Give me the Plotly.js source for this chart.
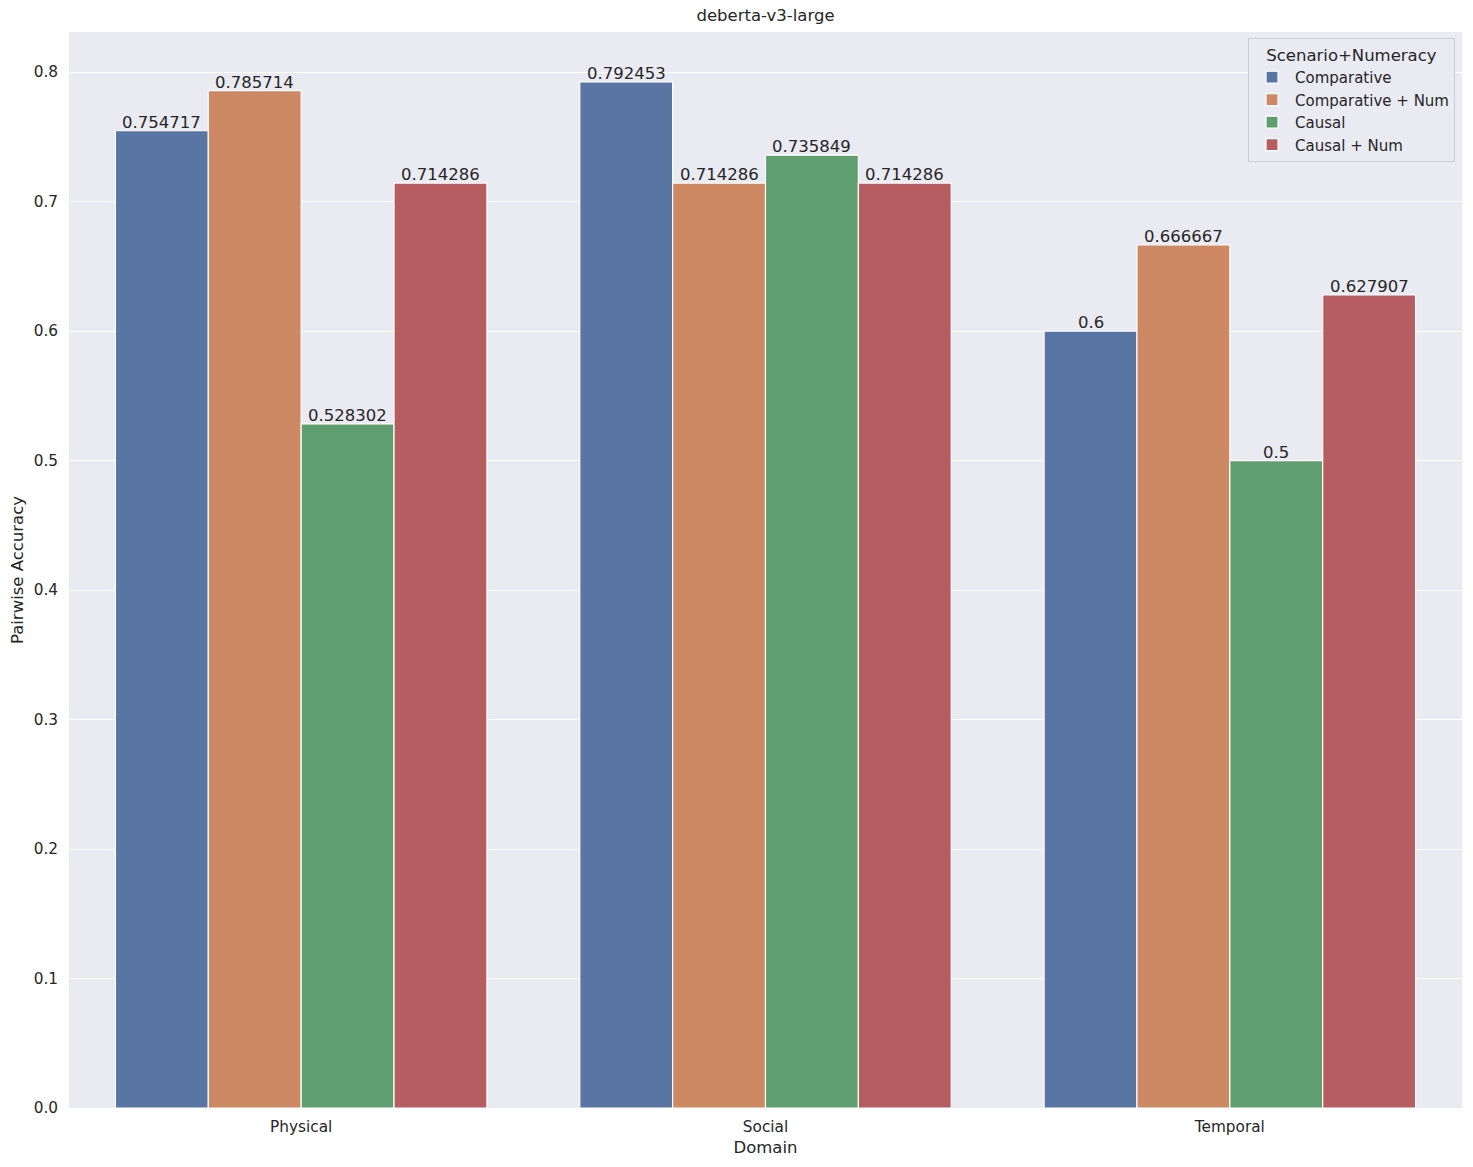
<!DOCTYPE html>
<html>
<head>
<meta charset="utf-8">
<script src="https://cdn.plot.ly/plotly-3.0.1.min.js"></script>
<style>
  html, body { margin: 0; padding: 0; background: #fff; }
  #chart { width: 1473px; height: 1167px; }
</style>
</head>
<body>
<div id="chart"></div>
<script>
var domains = ['Physical', 'Social', 'Temporal']
var seriesNames = ['Comparative', 'Comparative + Num', 'Causal', 'Causal + Num']
var seriesColours = ['#5975A4', '#CC8963', '#5F9E6E', '#B55D60']

var comparative = [0.754717, 0.792453, 0.6]
var comparativeNum = [0.785714, 0.714286, 0.666667]
var causal = [0.528302, 0.735849, 0.5]
var causalNum = [0.714286, 0.714286, 0.627907]

var seriesValues = [comparative, comparativeNum, causal, causalNum]

var textcolour = '#262626'
var groupWidth = 0.8

function makeTraces() {
  var data = []
  for (var s = 0; s < seriesNames.length; s++) {
    data.push({
      x: domains.map(function (d, i) { return i }),
      y: seriesValues[s],
      name: seriesNames[s],
      type: 'bar',
      marker: {
        color: seriesColours[s],
        line: { color: '#ffffff', width: 1.2 }
      },
      hoverinfo: 'y+name'
    })
  }
  return data
}

// value labels sitting just on top of each bar
function makeLabels() {
  var notes = []
  var n = seriesNames.length
  var w = groupWidth / n
  for (var s = 0; s < n; s++) {
    for (var i = 0; i < domains.length; i++) {
      notes.push({
        x: i + (s - (n - 1) / 2) * w,
        y: seriesValues[s][i],
        xref: 'x',
        yref: 'y',
        text: String(seriesValues[s][i]),
        showarrow: false,
        yanchor: 'bottom',
        yshift: -3,
        font: { size: 16.5, color: textcolour }
      })
    }
  }
  return notes
}

var layout = {
  width: 1473,
  height: 1167,
  font: { family: 'DejaVu Sans, sans-serif', color: textcolour, size: 15 },
  title: {
    text: 'deberta-v3-large',
    font: { size: 16.5, color: textcolour },
    x: 0.5,
    xref: 'paper',
    y: 1,
    yref: 'container',
    yanchor: 'top',
    pad: { t: 9 }
  },
  paper_bgcolor: '#ffffff',
  plot_bgcolor: '#EAEAF2',
  barmode: 'group',
  bargap: 1 - groupWidth,
  bargroupgap: 0,
  margin: { l: 69, r: 11, t: 32, b: 59 },
  xaxis: {
    title: { text: 'Domain', font: { size: 16.5 }, standoff: 6 },
    showgrid: false,
    zeroline: false,
    showline: false,
    ticks: '',
    tickfont: { size: 15.3 },
    tickvals: [0, 1, 2],
    ticktext: domains,
    ticklabelstandoff: 8,
    range: [-0.5, 2.5]
  },
  yaxis: {
    title: { text: 'Pairwise Accuracy', font: { size: 16.5 }, standoff: 5 },
    range: [0, 0.831],
    dtick: 0.1,
    tick0: 0,
    tickformat: '.1f',
    gridcolor: '#ffffff',
    gridwidth: 1.2,
    zeroline: false,
    showline: false,
    ticks: '',
    ticklabelstandoff: 10,
    tickfont: { size: 15.3 }
  },
  legend: {
    title: { text: 'Scenario+Numeracy', font: { size: 16.5 }, side: 'top center' },
    x: 0.995,
    xanchor: 'right',
    y: 0.994,
    yanchor: 'top',
    bgcolor: '#EAEAF2',
    bordercolor: '#CDCDD4',
    borderwidth: 1,
    font: { size: 15 },
    itemwidth: 36,
    tracegroupgap: 0
  },
  annotations: makeLabels(),
  showlegend: true
}

Plotly.newPlot('chart', makeTraces(), layout, { displayModeBar: false })
</script>
</body>
</html>
